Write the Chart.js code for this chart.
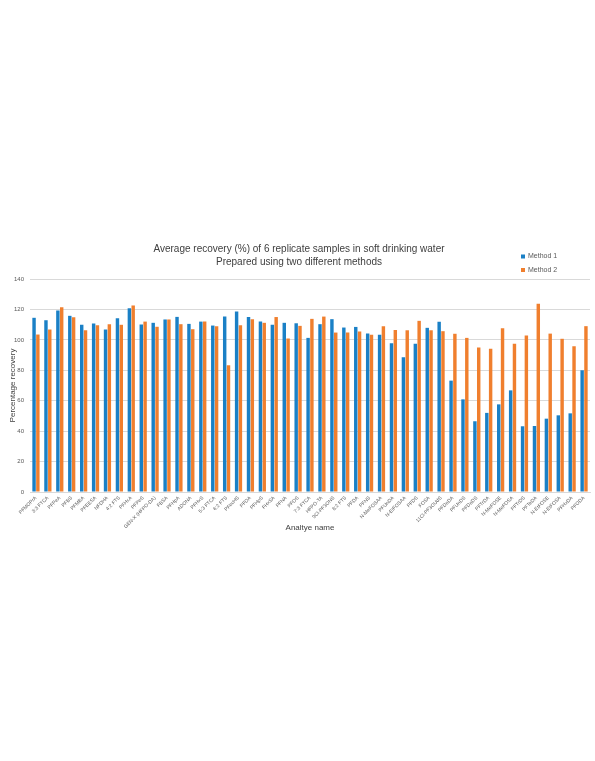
<!DOCTYPE html>
<html>
<head>
<meta charset="utf-8">
<script src="https://cdn.jsdelivr.net/npm/chart.js@4.4.1/dist/chart.umd.min.js"></script>
<style>
html,body{margin:0;padding:0;background:#fff;}
#wrap{position:absolute;left:0;top:0;width:595px;height:761px;}
</style>
</head>
<body>
<div id="wrap"><canvas id="c" width="595" height="761"></canvas></div>
<script>
const categories = ['PFMOPrA','3:3 FTCA','PFPeA','PFBS','PFMBA','PFEESA','NFDHA','4:2 FTS','PFHxA','PFPeS','GEN-X (HFPO-DA)','FBSA','PFHpA','ADONA','PFHxS','5:3 FTCA','6:2 FTS','PFecHS','PFOA','PFHpS','FHxSA','PFNA','PFOS','7:3 FTCA','HFPO-TA','9Cl-PF3ONS','8:2 FTS','PFDA','PFNS','N-MeFOSAA','PFUnDA','N-EtFOSAA','PFDS','FOSA','11Cl-PF3OUdS','PFDoDA','PFUnDS','PFDoDS','PFTrDA','N-MeFOSE','N-MeFOSA','PFTrDS','PFTeDA','N-EtFOSE','N-EtFOSA','PFHxDA','PFODA'];
const method1 = [114.5,112.9,119.3,115.8,109.9,110.7,106.8,114.2,120.8,110.1,111.2,113.4,115.1,110.5,112,109.4,115.3,118.6,115.1,112,110,111.2,110.9,101.3,110.3,113.6,108.1,108.5,104.1,103.3,97.8,88.6,97.4,107.9,111.9,73.2,60.9,46.5,52,57.6,66.8,43.2,43.4,48.2,50.4,51.7,80];
const method2 = [103.5,106.8,121.5,114.9,106.3,109.6,110.3,109.9,122.6,112,108.6,113.4,110.3,107,112,109,83.3,109.6,113.6,111.2,115,100.9,109.2,113.8,115.3,104.8,104.8,105.5,103.3,109,106.5,106.3,112.5,106.3,105.7,104,101.3,94.9,94.1,107.6,97.4,102.8,123.7,104.1,100.7,95.8,109];
const seriesNames = ['Method 1','Method 2'];
const titleLines = ['Average recovery (%) of 6 replicate samples in soft drinking water','Prepared using two different methods'];
const yTicks = [0,20,40,60,80,100,120,140];

const FONT = "'Liberation Sans', Arial, sans-serif";
const colors = ['#1a80c6','#f07f2e'];

const legendPlugin = {
  id: 'sideLegend',
  afterDraw(chart) {
    const ctx = chart.ctx;
    ctx.save();
    ctx.font = '7px ' + FONT;
    ctx.textBaseline = 'middle';
    ctx.textAlign = 'left';
    chart.data.datasets.forEach((ds, i) => {
      const y = 256.5 + i * 13.5;
      ctx.fillStyle = ds.backgroundColor;
      ctx.fillRect(521, y - 2, 4, 4);
      ctx.fillStyle = '#595959';
      ctx.fillText(ds.label, 528, y);
    });
    ctx.restore();
  }
};

new Chart(document.getElementById('c'), {
  type: 'bar',
  data: {
    labels: categories,
    datasets: [
      { label: seriesNames[0], data: method1, backgroundColor: colors[0] },
      { label: seriesNames[1], data: method2, backgroundColor: colors[1] }
    ]
  },
  options: {
    responsive: false,
    animation: false,
    layout: { padding: { top: 242, left: 8, right: 5, bottom: 228 } },
    datasets: { bar: { categoryPercentage: 0.64, barPercentage: 0.9 } },
    plugins: {
      legend: { display: false },
      tooltip: { enabled: false },
      title: {
        display: true,
        text: titleLines,
        color: '#404040',
        font: { family: FONT, size: 10, weight: 'normal', lineHeight: 1.35 },
        padding: { top: 0, bottom: 10 }
      }
    },
    scales: {
      x: {
        grid: { display: false, drawTicks: false },
        border: { color: '#d9d9d9' },
        ticks: {
          autoSkip: false, maxRotation: 45, minRotation: 45,
          color: '#595959', font: { family: FONT, size: 5 }, padding: 3
        },
        title: { display: true, text: 'Analtye name', color: '#404040', font: { family: FONT, size: 8 }, padding: { top: 0, bottom: 0 } },
        afterFit(s) { s.height = 41; }
      },
      y: {
        min: 0, max: 140,
        afterBuildTicks(s) { s.ticks = yTicks.map(v => ({ value: v })); },
        grid: { color: '#d9d9d9', drawTicks: false, lineWidth: 1 },
        border: { display: false },
        ticks: { color: '#595959', font: { family: FONT, size: 6 }, padding: 6 },
        title: { display: true, text: 'Percentage recovery', color: '#404040', font: { family: FONT, size: 8 }, padding: { top: 0, bottom: 1 } },
        afterFit(s) { s.width = 22; }
      }
    }
  },
  plugins: [legendPlugin]
});
</script>
</body>
</html>
